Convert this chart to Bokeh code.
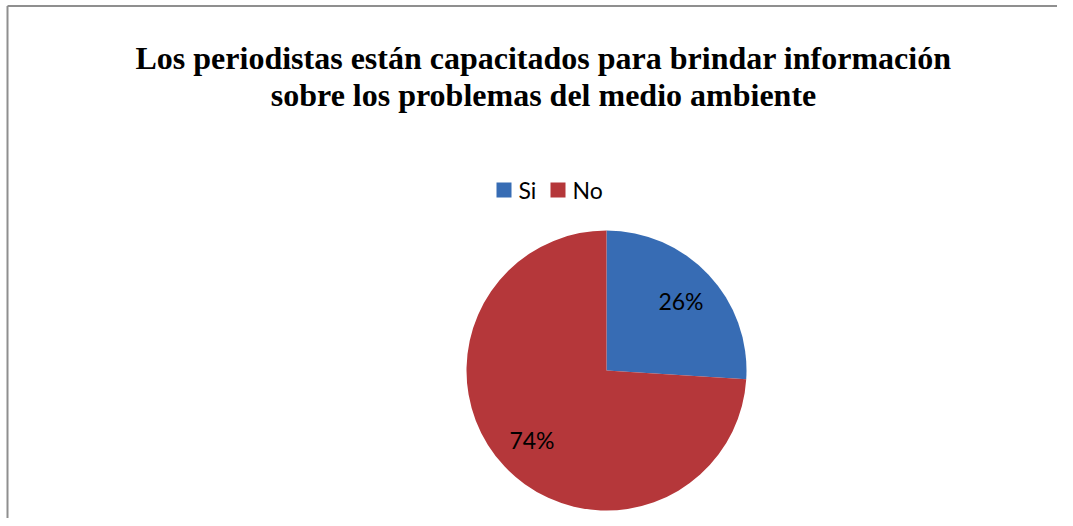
import math
from bokeh.plotting import figure
from bokeh.models import Range1d, ColumnDataSource
from bokeh.core.properties import value
from bokeh.embed import file_html
from bokeh.resources import INLINE

# ---- data ----
categories = ["Si", "No"]
shares = [26, 74]
labels = ["26%", "74%"]
colors = ["#376CB4", "#B5373A"]
title_lines = ["Los periodistas están capacitados para brindar información",
               "sobre los problemas del medio ambiente"]

W, H = 1057, 518
CX, CY, R = 606, H - 370, 140

p = figure(width=W, height=H, output_backend="svg", toolbar_location=None,
           x_range=Range1d(0, W), y_range=Range1d(0, H), min_border=0)
p.axis.visible = False
p.grid.visible = False
p.outline_line_color = None
p.background_fill_color = "white"

# chart-area border (top and left visible)
p.segment(x0=[7, 7], y0=[H - 5.5, H - 5.5], x1=[W + 5, 7], y1=[H - 5.5, -5],
          line_color="#8f8f8f", line_width=2)

total = sum(shares)
starts, ends, lx, ly = [], [], [], []
a = math.pi / 2
for s in shares:
    span = 2 * math.pi * s / total
    starts.append(a - span)
    ends.append(a)
    mid = a - span / 2
    lx.append(CX + 0.73 * R * math.cos(mid))
    ly.append(CY + 0.73 * R * math.sin(mid))
    a -= span

src = ColumnDataSource(dict(cat=categories, start=starts, end=ends, color=colors,
                            lx=lx, ly=ly, lab=labels))
p.wedge(x=CX, y=CY, radius=R, start_angle="start", end_angle="end",
        fill_color="color", line_color=None, source=src)

p.text(x="lx", y="ly", text="lab", source=src, text_align="center",
       text_baseline="middle", text_font=value("Lato"), text_font_size="23px",
       text_color="black")

# title
p.text(x=[543, 543], y=[H - 57, H - 94], text=title_lines, text_align="center",
       text_baseline="alphabetic", text_font=value("Liberation Serif"),
       text_font_style="bold", text_font_size="32px", text_color="black")

# legend (manual, horizontal)
leg_x = [496, 550]
leg_y = H - 189.5
p.rect(x=[x + 7.5 for x in leg_x], y=leg_y, width=15, height=15,
       fill_color=colors, line_color=None)
p.text(x=[x + 22 for x in leg_x], y=leg_y, text=categories, text_align="left",
       text_baseline="middle", text_font=value("Lato"), text_font_size="23px",
       text_color="black")

open("out.html", "w").write(file_html(p, INLINE))
